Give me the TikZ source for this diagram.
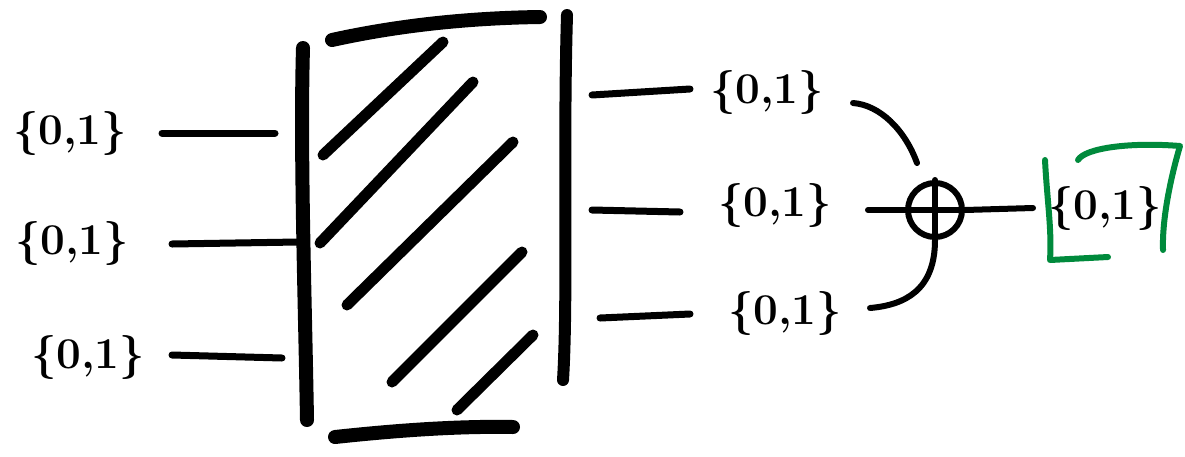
\documentclass[tikz,border=0pt]{standalone}
\usetikzlibrary{calc}
\definecolor{pengreen}{RGB}{0,138,60}
\tikzset{
  heavy/.style={line width=14pt,line cap=round},
  hatch/.style={line width=11pt,line cap=round},
  wire/.style={line width=7pt,line cap=round},
  thinwire/.style={line width=6pt,line cap=round},
  lbl/.style={font=\bfseries\fontsize{44}{44}\selectfont,inner sep=0pt},
  greenpen/.style={draw=pengreen,line width=6pt,line cap=round,line join=round}
}
\begin{document}
\begin{tikzpicture}[x=1pt,y=-1pt]
\useasboundingbox (0,0) rectangle (1185,456);
% box
\draw[heavy] (303,48) .. controls (300,150) and (305,300) .. (307,420);
\draw[heavy] (332,40) .. controls (400,25) and (470,18) .. (540,17);
\draw[line width=12pt,line cap=round] (567,15) .. controls (563,150) and (568,300) .. (563,380);
\draw[heavy] (335,437) .. controls (400,430) and (460,426) .. (513,427);
% hatching
\draw[hatch] (323,155) -- (443,42);
\draw[hatch] (320,243) -- (473,82);
\draw[hatch] (347,305) -- (513,142);
\draw[hatch] (392,382) -- (522,252);
\draw[hatch] (457,410) -- (533,335);
% input labels and wires
\node[lbl] (i1) at (70,133) {\{0,1\}};
\node[lbl] (i2) at (72,243) {\{0,1\}};
\node[lbl] (i3) at (88,357) {\{0,1\}};
\coordinate (a1) at (162,133);
\coordinate (a2) at (172,244);
\coordinate (a3) at (172,355);
\coordinate (b1) at (275,133);
\coordinate (b2) at (298,242);
\coordinate (b3) at (282,358);
\draw[wire] (a1) -- (b1);
\draw[wire] (a2) -- (b2);
\draw[wire] (a3) -- (b3);
% output wires and labels
\node[lbl] (o1) at (767,92) {\{0,1\}};
\node[lbl] (o2) at (775,205) {\{0,1\}};
\node[lbl] (o3) at (785,313) {\{0,1\}};
\coordinate (c1) at (592,95);
\coordinate (c2) at (592,210);
\coordinate (c3) at (600,318);
\coordinate (d1) at (690,89);
\coordinate (d2) at (680,212);
\coordinate (d3) at (690,314);
\draw[wire] (c1) -- (d1);
\draw[wire] (c2) -- (d2);
\draw[wire] (c3) -- (d3);
% xor
\node[draw,circle,line width=6pt,minimum size=54pt,inner sep=0pt] (xor) at (935,210) {};
\draw[thinwire] (xor.north) -- (xor.south);
\draw[thinwire] (xor.west) -- (xor.east);
\coordinate (e1) at (853,103);
\coordinate (e2) at (868,210);
\coordinate (e3) at (870,308);
\draw[thinwire] (e1) .. controls (880,105) and (905,130) .. (917,163);
\draw[thinwire] (e2) -- (xor.west);
\draw[thinwire] (xor.south) .. controls (935,290) and (905,305) .. (e3);
% output
\node[lbl] (res) at (1105,208) {\{0,1\}};
\coordinate (f) at (1033,208);
\draw[thinwire] (xor.east) -- (f);
\draw[greenpen] (1045,160) .. controls (1047,200) and (1052,230) .. (1050,260) -- (1108,257);
\draw[greenpen] (1078,160) .. controls (1085,148) and (1130,142) .. (1180,146) .. controls (1170,180) and (1162,220) .. (1163,250);
\end{tikzpicture}
\end{document}
